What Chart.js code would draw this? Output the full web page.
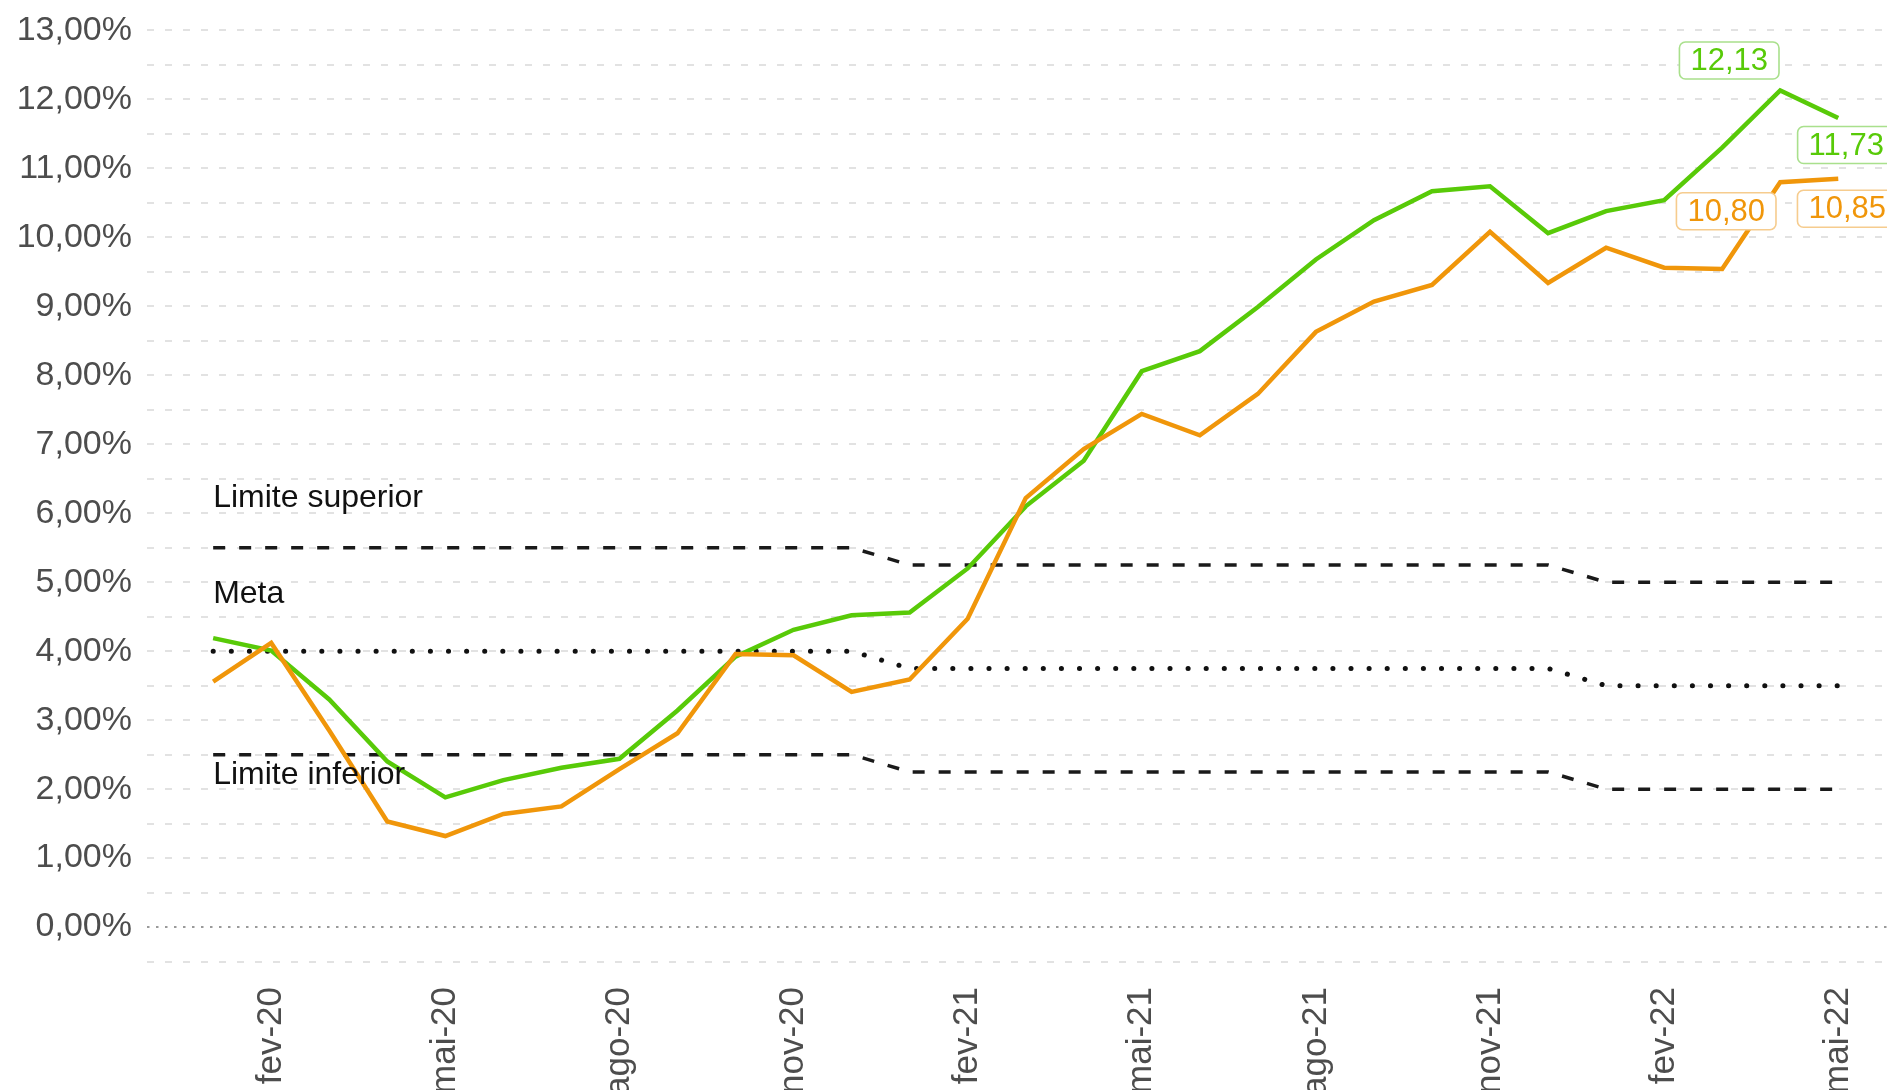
<!DOCTYPE html>
<html lang="pt">
<head>
<meta charset="utf-8">
<title>Inflação acumulada em 12 meses</title>
<script src="https://cdn.jsdelivr.net/npm/chart.js@4.4.1/dist/chart.umd.min.js"></script>
<style>
	html, body { margin: 0; padding: 0; background: #fff; }
	canvas { display: block; }
</style>
</head>
<body>
<canvas id="inflationChart" width="1887" height="1090"></canvas>
<script>
	'use strict';

	// Months (jan-20 .. mai-22)
	const months = ['jan-20', 'fev-20', 'mar-20', 'abr-20', 'mai-20', 'jun-20', 'jul-20', 'ago-20', 'set-20', 'out-20', 'nov-20', 'dez-20',
		'jan-21', 'fev-21', 'mar-21', 'abr-21', 'mai-21', 'jun-21', 'jul-21', 'ago-21', 'set-21', 'out-21', 'nov-21', 'dez-21',
		'jan-22', 'fev-22', 'mar-22', 'abr-22', 'mai-22'];

	// Month indexes that get an x tick label
	const xTickIndexes = [1, 4, 7, 10, 13, 16, 19, 22, 25, 28];

	// Green series (% em 12 meses)
	const greenSeries = [4.19, 4.01, 3.30, 2.40, 1.88, 2.13, 2.31, 2.44, 3.14, 3.92, 4.31, 4.52,
		4.56, 5.20, 6.10, 6.76, 8.06, 8.35, 8.99, 9.68, 10.25, 10.67, 10.74, 10.06,
		10.38, 10.54, 11.30, 12.13, 11.73];

	// Orange series (% em 12 meses)
	const orangeSeries = [3.56, 4.12, 2.85, 1.53, 1.32, 1.64, 1.75, 2.29, 2.81, 3.96, 3.94, 3.41,
		3.59, 4.47, 6.22, 6.93, 7.44, 7.13, 7.73, 8.63, 9.07, 9.31, 10.08, 9.34,
		9.85, 9.56, 9.54, 10.80, 10.85];

	// Inflation target band (2020 / 2021 / 2022)
	const targetUpper = [5.5, 5.5, 5.5, 5.5, 5.5, 5.5, 5.5, 5.5, 5.5, 5.5, 5.5, 5.5,
		5.25, 5.25, 5.25, 5.25, 5.25, 5.25, 5.25, 5.25, 5.25, 5.25, 5.25, 5.25,
		5.0, 5.0, 5.0, 5.0, 5.0];
	const targetCenter = [4.0, 4.0, 4.0, 4.0, 4.0, 4.0, 4.0, 4.0, 4.0, 4.0, 4.0, 4.0,
		3.75, 3.75, 3.75, 3.75, 3.75, 3.75, 3.75, 3.75, 3.75, 3.75, 3.75, 3.75,
		3.5, 3.5, 3.5, 3.5, 3.5];
	const targetLower = [2.5, 2.5, 2.5, 2.5, 2.5, 2.5, 2.5, 2.5, 2.5, 2.5, 2.5, 2.5,
		2.25, 2.25, 2.25, 2.25, 2.25, 2.25, 2.25, 2.25, 2.25, 2.25, 2.25, 2.25,
		2.0, 2.0, 2.0, 2.0, 2.0];

	// Band captions and the y value they sit at
	const bandLabels = ['Limite superior', 'Meta', 'Limite inferior'];
	const bandLabelY = [6.22, 4.82, 2.2];

	// Axis range
	const yMin = -0.55, yMax = 13.05;
	const xMin = -1.14, xMax = 28.84;

	const GREEN = '#58ca08';
	const ORANGE = '#f0960a';
	const TICK_COLOR = '#4d4d4d';
	const FONT = "'Liberation Sans', Arial, Helvetica, sans-serif";

	const toPoints = arr => arr.map((v, i) => ({ x: i, y: v }));
	const fmt = v => v.toFixed(2).replace('.', ',');

	// Value boxes on the last months (offsets in px from the point)
	const valueBoxes = [
		{ series: greenSeries, index: 27, color: GREEN, border: '#a9e08c', dx: -51, dy: -30 },
		{ series: greenSeries, index: 28, color: GREEN, border: '#a9e08c', dx: 8, dy: 27 },
		{ series: orangeSeries, index: 27, color: ORANGE, border: '#f6cc8e', dx: -54, dy: 29 },
		{ series: orangeSeries, index: 28, color: ORANGE, border: '#f6cc8e', dx: 9, dy: 30 }
	];

	function roundRect(ctx, x, y, w, h, r) {
		ctx.beginPath();
		ctx.moveTo(x + r, y);
		ctx.lineTo(x + w - r, y);
		ctx.arcTo(x + w, y, x + w, y + r, r);
		ctx.lineTo(x + w, y + h - r);
		ctx.arcTo(x + w, y + h, x + w - r, y + h, r);
		ctx.lineTo(x + r, y + h);
		ctx.arcTo(x, y + h, x, y + h - r, r);
		ctx.lineTo(x, y + r);
		ctx.arcTo(x, y, x + r, y, r);
		ctx.closePath();
	}

	const annotationsPlugin = {
		id: 'annotations',
		beforeDatasetsDraw(chart) {
			// dotted zero line
			const { ctx, chartArea, scales } = chart;
			const y0 = scales.y.getPixelForValue(0);
			ctx.save();
			ctx.strokeStyle = '#9a9a9a';
			ctx.lineWidth = 2;
			ctx.setLineDash([2.5, 6.5]);
			ctx.beginPath();
			ctx.moveTo(chartArea.left, y0);
			ctx.lineTo(chart.width, y0);
			ctx.stroke();
			ctx.restore();
		},
		afterDatasetsDraw(chart) {
			const { ctx, scales } = chart;
			ctx.save();

			// band captions
			ctx.font = '32px ' + FONT;
			ctx.fillStyle = '#111';
			ctx.textAlign = 'left';
			ctx.textBaseline = 'middle';
			bandLabels.forEach((txt, i) => {
				ctx.fillText(txt, scales.x.getPixelForValue(0), scales.y.getPixelForValue(bandLabelY[i]));
			});

			// value boxes
			ctx.font = '31px ' + FONT;
			ctx.textAlign = 'center';
			valueBoxes.forEach(b => {
				const v = b.series[b.index];
				const cx = scales.x.getPixelForValue(b.index) + b.dx;
				const cy = scales.y.getPixelForValue(v) + b.dy;
				const txt = fmt(v);
				const w = ctx.measureText(txt).width + 22;
				const h = 37;
				roundRect(ctx, cx - w / 2, cy - h / 2, w, h, 6);
				ctx.fillStyle = '#fff';
				ctx.fill();
				ctx.lineWidth = 1.6;
				ctx.strokeStyle = b.border;
				ctx.stroke();
				ctx.fillStyle = b.color;
				ctx.fillText(txt, cx, cy + 1);
			});
			ctx.restore();
		}
	};

	function initializeChart() {
		const canvas = document.getElementById('inflationChart');

		new Chart(canvas, {
			type: 'line',
			data: {
				datasets: [{
					label: 'Laranja',
					data: toPoints(orangeSeries),
					borderColor: ORANGE,
					borderWidth: 4.5,
					pointRadius: 0,
					tension: 0
				}, {
					label: 'Verde',
					data: toPoints(greenSeries),
					borderColor: GREEN,
					borderWidth: 4.5,
					pointRadius: 0,
					tension: 0
				}, {
					label: 'Limite superior',
					data: toPoints(targetUpper),
					borderColor: '#1a1a1a',
					borderWidth: 3.5,
					borderDash: [12, 14],
					pointRadius: 0
				}, {
					label: 'Meta',
					data: toPoints(targetCenter),
					borderColor: '#111',
					borderWidth: 5,
					borderDash: [0.1, 18],
					borderCapStyle: 'round',
					pointRadius: 0
				}, {
					label: 'Limite inferior',
					data: toPoints(targetLower),
					borderColor: '#1a1a1a',
					borderWidth: 3.5,
					borderDash: [12, 14],
					pointRadius: 0
				}]
			},
			options: {
				responsive: false,
				devicePixelRatio: 1,
				animation: false,
				layout: { padding: { top: 27, right: 0, bottom: 0, left: 0 } },
				plugins: {
					legend: { display: false },
					tooltip: { enabled: false }
				},
				scales: {
					x: {
						type: 'linear',
						min: xMin,
						max: xMax,
						afterBuildTicks: scale => {
							scale.ticks = xTickIndexes.map(v => ({ value: v }));
						},
						afterFit: scale => {
							scale.height = 125;
							scale.paddingLeft = 0;
							scale.paddingRight = 0;
						},
						grid: { display: false },
						border: { display: false },
						ticks: {
							autoSkip: false,
							minRotation: 90,
							maxRotation: 90,
							padding: 14,
							color: TICK_COLOR,
							font: { family: FONT, size: 35 },
							callback: value => months[value]
						}
					},
					y: {
						type: 'linear',
						min: yMin,
						max: yMax,
						afterBuildTicks: scale => {
							const ticks = [];
							for (let k = -1; k <= 26; k++) ticks.push({ value: k / 2 });
							scale.ticks = ticks;
						},
						afterFit: scale => {
							scale.width = 147;
							scale.paddingTop = 0;
							scale.paddingBottom = 0;
						},
						grid: {
							color: ctx => (ctx.tick && ctx.tick.value === 0) ? 'rgba(0,0,0,0)' : '#e2e2e2',
							lineWidth: 2,
							drawTicks: false
						},
						border: { display: false, dash: [7, 11] },
						ticks: {
							autoSkip: false,
							padding: 15,
							color: TICK_COLOR,
							font: { family: FONT, size: 34 },
							callback: value => (Number.isInteger(value) && value >= 0) ? fmt(value) + '%' : ''
						}
					}
				}
			},
			plugins: [annotationsPlugin]
		});
	}

	if (document.readyState === 'loading') {
		document.addEventListener('DOMContentLoaded', initializeChart);
	} else {
		initializeChart();
	}
</script>
</body>
</html>
